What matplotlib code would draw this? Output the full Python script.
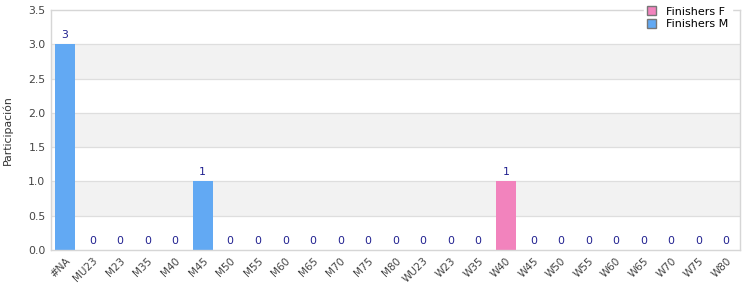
import matplotlib
matplotlib.use("Agg")
import matplotlib.pyplot as plt
import numpy as np
from matplotlib.patches import Patch

categories = ["#NA", "MU23", "M23", "M35", "M40", "M45", "M50", "M55", "M60", "M65",
              "M70", "M75", "M80", "WU23", "W23", "W35", "W40", "W45", "W50", "W55",
              "W60", "W65", "W70", "W75", "W80"]
finishers_m = [3, 0, 0, 0, 0, 1, 0, 0, 0, 0, 0, 0, 0, None, None, None, None, None, None, None, None, None, None, None, None]
finishers_f = [None, None, None, None, None, None, None, None, None, None, None, None, None, 0, 0, 0, 1, 0, 0, 0, 0, 0, 0, 0, 0]

blue = "#62a9f3"
pink = "#f283bd"
label_color = "#1f1f8f"

fig = plt.figure(figsize=(7.5, 3), dpi=100)
ax = fig.add_axes([0.068, 0.1667, 0.9187, 0.80])

x = np.arange(len(categories))
m_vals = np.array([np.nan if v is None else v for v in finishers_m], dtype=float)
f_vals = np.array([np.nan if v is None else v for v in finishers_f], dtype=float)

ax.set_ylim(0, 3.5)
ax.set_xlim(-0.5, len(categories) - 0.5)

# alternating bands
for lo in np.arange(0.5, 3.5, 1.0):
    ax.axhspan(lo, lo + 0.5, color="#f2f2f2", zorder=0, lw=0)
for yv in np.arange(0.5, 3.5, 0.5):
    ax.axhline(yv, color="#dedede", lw=0.9, zorder=0.5)

w = 0.73
ax.bar(x, np.nan_to_num(m_vals), width=w, color=blue, zorder=2)
ax.bar(x, np.nan_to_num(f_vals), width=w, color=pink, zorder=2)

for i in range(len(categories)):
    v = m_vals[i] if not np.isnan(m_vals[i]) else f_vals[i]
    ax.annotate(f"{int(v)}", (x[i], v), xytext=(0, 3), textcoords="offset points",
                ha="center", va="bottom", fontsize=7.8, color=label_color, zorder=3)

ax.set_xticks(x)
ax.set_xticklabels(categories, rotation=45, ha="right", rotation_mode="anchor",
                   fontsize=7.5, color="#444444")
ax.set_yticks(np.arange(0, 3.51, 0.5))
ax.set_yticklabels([f"{v:.1f}" for v in np.arange(0, 3.51, 0.5)], fontsize=7.8, color="#444444")
ax.tick_params(length=0, pad=4)
ax.set_ylabel("Participación", fontsize=7.8, color="#333333", labelpad=11)

for s in ax.spines.values():
    s.set_color("#d6d6d6")
    s.set_linewidth(1)

handles = [Patch(facecolor=pink, edgecolor="#777777", label="Finishers F"),
           Patch(facecolor=blue, edgecolor="#777777", label="Finishers M")]
leg = fig.legend(handles=handles, loc="upper right", bbox_to_anchor=(0.983, 1.008),
                 fontsize=8, frameon=True, fancybox=False, handlelength=0.8,
                 handleheight=0.8, handletextpad=0.9, labelspacing=0.25, borderpad=0.3)
leg.get_frame().set_edgecolor("white")
leg.get_frame().set_facecolor("white")
leg.get_frame().set_alpha(1)

fig.savefig("out.png", dpi=100, facecolor="white")
